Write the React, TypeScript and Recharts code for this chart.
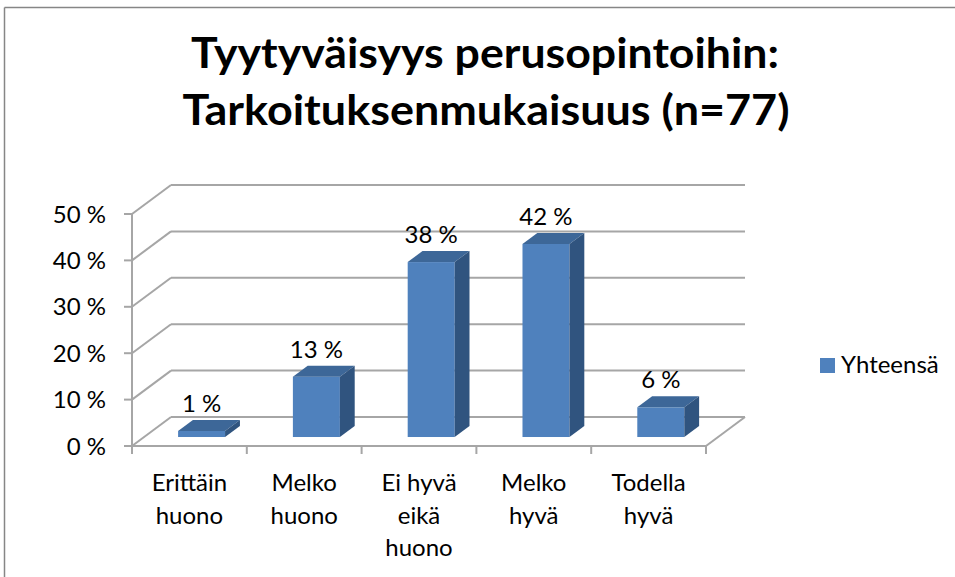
import React from 'react';
import { BarChart, Bar, XAxis, YAxis, CartesianGrid, LabelList } from 'recharts';

const categories = ['Erittäin huono', 'Melko huono', 'Ei hyvä eikä huono', 'Melko hyvä', 'Todella hyvä'];
const categoryLines = [
  ['Erittäin', 'huono'],
  ['Melko', 'huono'],
  ['Ei hyvä', 'eikä', 'huono'],
  ['Melko', 'hyvä'],
  ['Todella', 'hyvä'],
];
const values = [1.3, 13.0, 37.7, 41.6, 6.4];
const yTicks = [0, 10, 20, 30, 40, 50];
const seriesName = 'Yhteensä';
const titleLines = ['Tyytyväisyys perusopintoihin:', 'Tarkoituksenmukaisuus (n=77)'];

const data = categories.map((c, i) => ({ name: c, lines: categoryLines[i], value: values[i] }));

const FONT = 'Lato, Carlito, Calibri, sans-serif';
const FS = 24;
const DX = 39;
const DY = -29;
const F0 = 0.31;
const F1 = 0.69;
const GRID = '#a6a6a6';

const Bar3D = (props: any) => {
  const { x, y, width, height } = props;
  const fx = x + DX * F0;
  const fy = y + DY * F0;
  const ddx = DX * (F1 - F0);
  const ddy = DY * (F1 - F0);
  return (
    <g>
      <rect x={fx} y={fy} width={width} height={height} fill="#4f81bd" />
      <polygon
        points={`${fx},${fy} ${fx + width},${fy} ${fx + width + ddx},${fy + ddy} ${fx + ddx},${fy + ddy}`}
        fill="#3d6798"
      />
      <polygon
        points={`${fx + width},${fy} ${fx + width + ddx},${fy + ddy} ${fx + width + ddx},${fy + height + ddy} ${fx + width},${fy + height}`}
        fill="#30547f"
      />
    </g>
  );
};

const GridLine = (props: any) => {
  const { x1, y1, x2, index } = props;
  return (
    <g key={`g-${index}`}>
      <line x1={x1} y1={y1} x2={x1 + DX} y2={y1 + DY} stroke={GRID} strokeWidth={2} />
      <line x1={x1 + DX} y1={y1 + DY} x2={x2 + DX} y2={y1 + DY} stroke={GRID} strokeWidth={2} />
      {index === 0 ? (
        <line x1={x2} y1={y1} x2={x2 + DX} y2={y1 + DY} stroke={GRID} strokeWidth={2} />
      ) : null}
    </g>
  );
};

const XTick = (props: any) => {
  const { x, y, payload, index, visibleTicksCount } = props;
  const off = payload && payload.offset ? payload.offset : 57.2;
  const lines: string[] = categoryLines[index] || [String(payload.value)];
  const isLast = index === (visibleTicksCount ?? categories.length) - 1;
  return (
    <g>
      <line x1={x - off} y1={y - 8} x2={x - off} y2={y} stroke={GRID} strokeWidth={2} />
      {isLast ? <line x1={x + off} y1={y - 8} x2={x + off} y2={y} stroke={GRID} strokeWidth={2} /> : null}
      {lines.map((ln, i) => (
        <text key={i} x={x} y={y + 37 + i * 32.5} textAnchor="middle" fontSize={FS} fontFamily={FONT} fill="#000">
          {ln}
        </text>
      ))}
    </g>
  );
};

const ValueLabel = (props: any) => {
  const { x, y, width, value } = props;
  const cx = x + width / 2 + DX * F0;
  const cy = y + DY * F0 - 27;
  return (
    <text x={cx} y={cy + 8} textAnchor="middle" fontSize={FS} fontFamily={FONT} fill="#000">
      {`${Math.round(value)} %`}
    </text>
  );
};

export default function App() {
  return (
    <div style={{ position: 'absolute', left: 0, top: 0, width: 955, height: 577, background: '#fff' }}>
      <BarChart
        width={955}
        height={577}
        data={data}
        margin={{ top: 214, right: 249, bottom: 101, left: 72 }}
      >
        <CartesianGrid vertical={false} horizontal={GridLine as any} />
        <YAxis
          width={60}
          domain={[0, 50]}
          ticks={yTicks}
          interval={0}
          tickFormatter={(v: number) => `${v} %`}
          axisLine={{ stroke: GRID, strokeWidth: 2 }}
          tickLine={{ stroke: GRID, strokeWidth: 2 }}
          tickSize={8}
          tickMargin={18}
          tick={{ fill: '#000', fontSize: FS, fontFamily: FONT }}
        />
        <XAxis
          dataKey="name"
          height={30}
          interval={0}
          axisLine={{ stroke: GRID, strokeWidth: 2 }}
          tickLine={false}
          tickSize={8}
          tickMargin={0}
          tick={<XTick />}
        />
        <Bar dataKey="value" name={seriesName} barSize={47} shape={<Bar3D />} isAnimationActive={false}>
          <LabelList dataKey="value" content={<ValueLabel />} />
        </Bar>
      </BarChart>
      <svg width={955} height={577} style={{ position: 'absolute', left: 0, top: 0, pointerEvents: 'none' }}>
        <line x1={4.5} y1={7.5} x2={955} y2={7.5} stroke="#868686" strokeWidth={1.5} />
        <line x1={4.5} y1={7.5} x2={4.5} y2={577} stroke="#868686" strokeWidth={1.5} />
        <text x={485} y={68} textAnchor="middle" fontSize={42} fontWeight={700} fontFamily={FONT} fill="#000" textLength={588} lengthAdjust="spacingAndGlyphs">
          {titleLines[0]}
        </text>
        <text x={486} y={125} textAnchor="middle" fontSize={42} fontWeight={700} fontFamily={FONT} fill="#000" textLength={607} lengthAdjust="spacingAndGlyphs">
          {titleLines[1]}
        </text>
        <rect x={820} y={358} width={15} height={15} fill="#4f81bd" />
        <text x={841} y={373} fontSize={FS} fontFamily={FONT} fill="#000">
          {seriesName}
        </text>
      </svg>
    </div>
  );
}
